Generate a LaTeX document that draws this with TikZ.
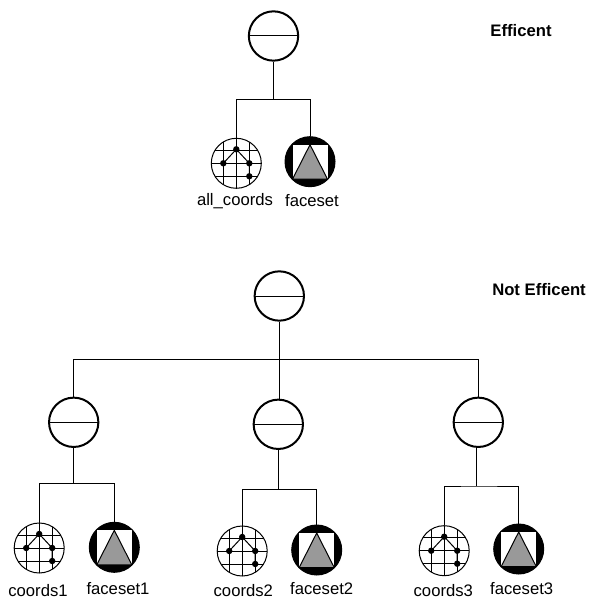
\documentclass[tikz,border=0pt]{standalone}
\usepackage{fontspec}
\setmainfont{Liberation Sans}
\usepackage{xcolor}
\usepackage{tikz}
\definecolor{faceGray}{gray}{0.6}
\tikzset{
    groupNode/.style={circle, draw, line width=1.5pt, minimum size=37pt, inner sep=0pt,
        path picture={\draw[line width=0.75pt] ([xshift=-20pt]path picture bounding box.center) -- ([xshift=20pt]path picture bounding box.center);}},
    coordsNode/.style={circle, draw, line width=0.75pt, minimum size=37.5pt, inner sep=0pt,
        path picture={
            \begin{scope}[shift={(path picture bounding box.center)}]
                \foreach \k in {-13, 0, 13} {
                    \draw[line width=0.75pt] (\k, -26) -- (\k, 26);
                    \draw[line width=0.75pt] (-26, \k) -- (26, \k);
                }
                \draw[line width=0.75pt] (-13, 0) -- (0, -14) -- (13, 0) -- (13, 13);
                \foreach \x/\y in {-13/0, 0/-14, 13/0, 13/13} {
                    \fill (\x, \y) circle (2.4pt);
                }
            \end{scope}}},
    facesetNode/.style={circle, draw, fill=black, line width=0.75pt, minimum size=37.5pt, inner sep=0pt,
        path picture={
            \begin{scope}[shift={(path picture bounding box.center)}]
                \fill[white] (-17.5, -17) rectangle (17.5, 17.5);
                \filldraw[fill=faceGray, draw=black, line width=0.75pt] (0, -17) -- (17.5, 17.5) -- (-17.5, 17.5) -- cycle;
            \end{scope}}},
    nameLabel/.style={font=\fontsize{12.5}{14}\selectfont},
    titleLabel/.style={font=\fontsize{12.5}{14}\selectfont\bfseries},
    wire/.style={line width=0.75pt}
}
\begin{document}
\begin{tikzpicture}[x=0.75pt, y=-0.75pt]
    \useasboundingbox (0, 0) rectangle (595, 605);

    % Efficent tree
    \node[groupNode] (rootA) at (273.5, 36) {};
    \node[coordsNode] (allCoords) at (236.3, 163.3) {};
    \node[facesetNode] (facesetA) at (310, 161.7) {};
    \coordinate (barA) at (273.5, 99.3);
    \draw[wire] (rootA.south) -- (barA);
    \draw[wire] (allCoords.north) |- (barA) -| (facesetA.north);
    \node[nameLabel] (allCoordsText) at (235, 201) {all\_coords};
    \node[nameLabel] (facesetAText) at (312, 201) {faceset};
    \node[titleLabel] (titleA) at (521, 31) {Efficent};

    % Not Efficent tree
    \node[groupNode] (rootB) at (279.3, 296) {};
    \node[titleLabel] (titleB) at (539, 290) {Not Efficent};
    \coordinate (barB) at (279.3, 359.3);

    % Three subtrees
    \foreach \i/\mx/\my/\sx/\by/\cx/\cy/\fx/\fy/\tcx/\tfx/\tcy/\tfy in {
        1/73.7/422.3/73.7/483.3/39.2/548/114.3/547.3/38/118/591/589,
        2/278.3/424.3/278.7/489.3/242.2/551/316.7/550/243.3/321.7/591/589,
        3/478.3/422.3/476.7/486/444.2/550.7/518.7/549/443.3/521.7/591/589
    } {
        \node[groupNode] (mid\i) at (\mx, \my) {};
        \node[coordsNode] (coords\i) at (\cx, \cy) {};
        \node[facesetNode] (faceset\i) at (\fx, \fy) {};
        \coordinate (bar\i) at (\sx, \by);
        \draw[wire] (bar\i |- mid\i.south) -- (bar\i);
        \draw[wire] (coords\i.north) |- (bar\i) -| (faceset\i.north);
        \node[nameLabel] (coordsText\i) at (\tcx, \tcy) {coords\i};
        \node[nameLabel] (facesetText\i) at (\tfx, \tfy) {faceset\i};
    }

    % Top level connectors
    \draw[wire] (rootB.south) -- (rootB.south |- mid2.north);
    \draw[wire] (mid1.north) |- (barB) -| (mid3.north);
\end{tikzpicture}
\end{document}
